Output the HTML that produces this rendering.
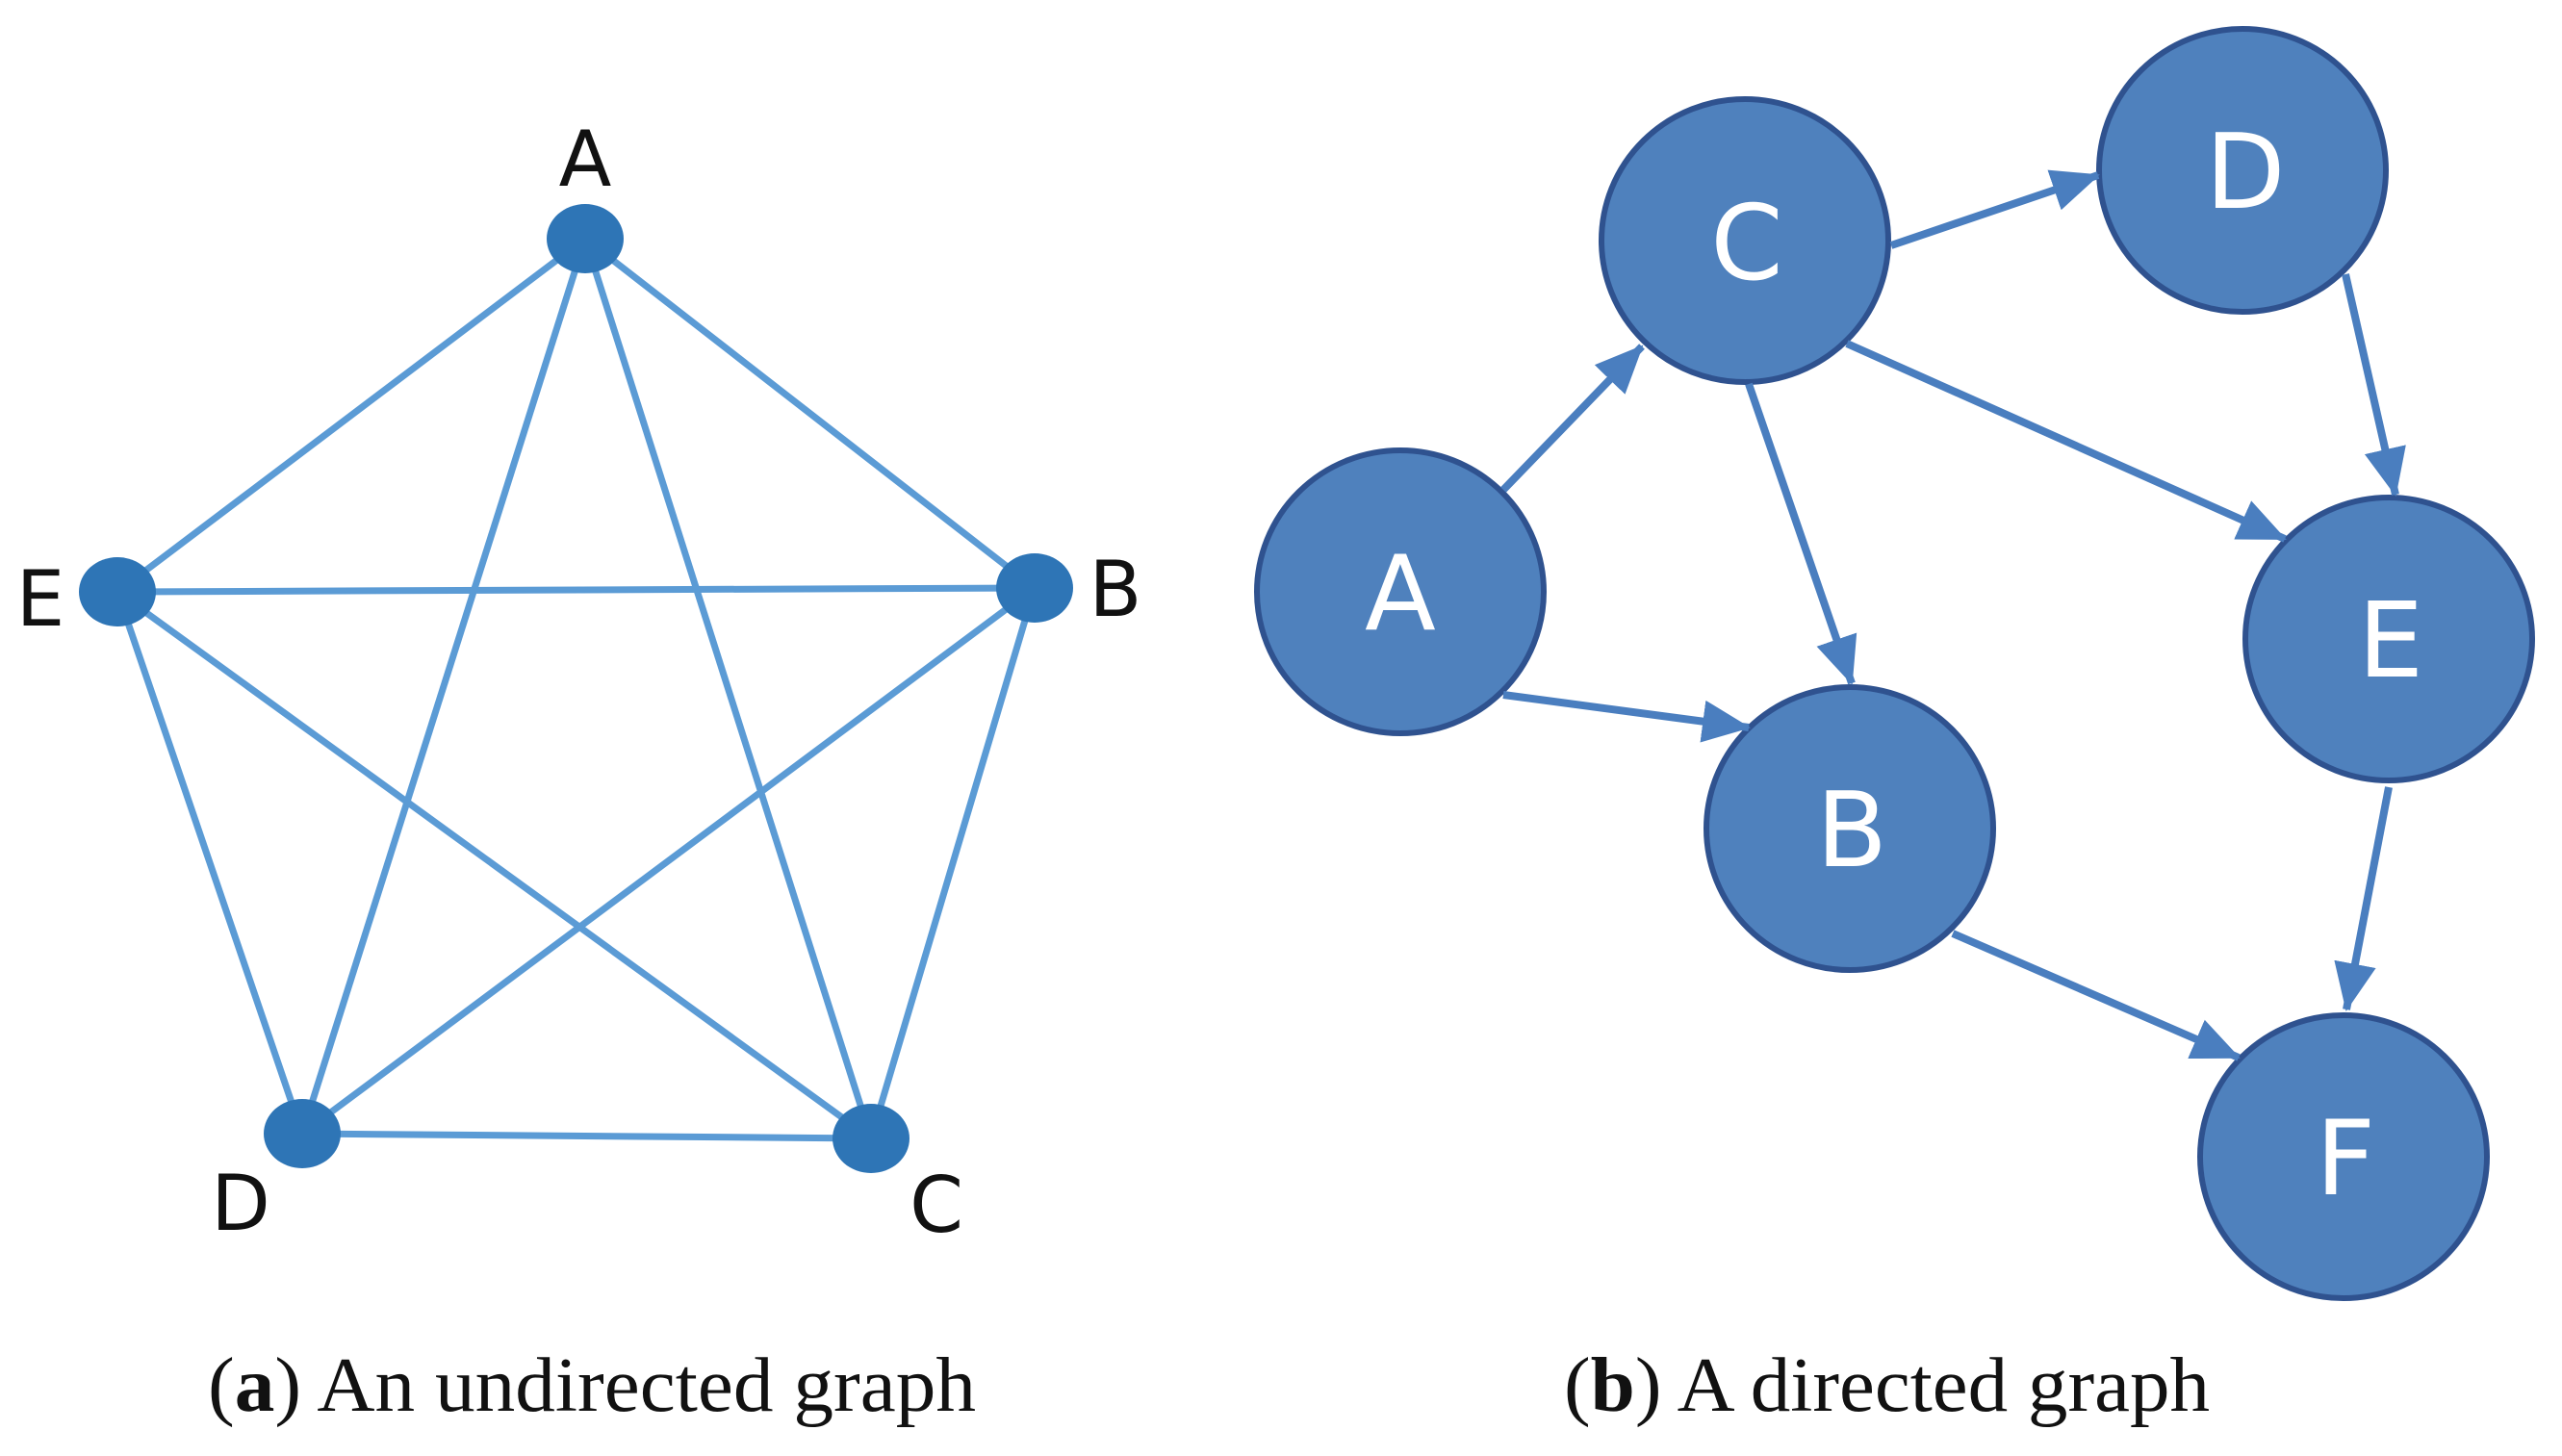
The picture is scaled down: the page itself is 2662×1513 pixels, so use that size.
<!DOCTYPE html>
<html><head><style>html,body{margin:0;padding:0;background:#fff;}svg{display:block;}</style></head>
<body>
<svg width="2662" height="1513" viewBox="0 0 2662 1513" xmlns="http://www.w3.org/2000/svg">
<defs>
<marker id="ah" markerWidth="50" markerHeight="44" refX="48" refY="22" orient="auto" markerUnits="userSpaceOnUse" viewBox="0 0 50 44">
<path d="M0,0 L50,22 L0,44 z" fill="#4a7ebf"/>
</marker>
</defs>
<g stroke="#5b9bd5" stroke-width="7" fill="none">
<line x1="608" y1="248" x2="122" y2="615"/>
<line x1="608" y1="248" x2="1075" y2="611"/>
<line x1="608" y1="248" x2="314" y2="1178"/>
<line x1="608" y1="248" x2="905" y2="1183"/>
<line x1="122" y1="615" x2="1075" y2="611"/>
<line x1="122" y1="615" x2="314" y2="1178"/>
<line x1="122" y1="615" x2="905" y2="1183"/>
<line x1="1075" y1="611" x2="314" y2="1178"/>
<line x1="1075" y1="611" x2="905" y2="1183"/>
<line x1="314" y1="1178" x2="905" y2="1183"/>
</g>
<g fill="#2e75b6">
<ellipse cx="608" cy="248" rx="40" ry="36"/>
<ellipse cx="122" cy="615" rx="40" ry="36"/>
<ellipse cx="1075" cy="611" rx="40" ry="36"/>
<ellipse cx="314" cy="1178" rx="40" ry="36"/>
<ellipse cx="905" cy="1183" rx="40" ry="36"/>
</g>
<g font-family="'DejaVu Sans','Liberation Sans',sans-serif" font-size="80" fill="#111" text-anchor="middle">
<text x="608" y="193">A</text>
<text x="42" y="650">E</text>
<text x="1159" y="640">B</text>
<text x="250" y="1278">D</text>
<text x="973" y="1280">C</text>
</g>
<g fill="#4f81bd" stroke="#2f528f" stroke-width="6">
<ellipse cx="1455" cy="615" rx="149" ry="147"/>
<ellipse cx="1813" cy="250" rx="149" ry="147"/>
<ellipse cx="2330" cy="177" rx="149" ry="147"/>
<ellipse cx="2482" cy="664" rx="149" ry="147"/>
<ellipse cx="1922" cy="861" rx="149" ry="147"/>
<ellipse cx="2435" cy="1202" rx="149" ry="147"/>
</g>
<g stroke="#4a7ebf" stroke-width="8" fill="none" marker-end="url(#ah)">
<line x1="1562" y1="509" x2="1706" y2="360"/>
<line x1="1562" y1="722" x2="1817" y2="756"/>
<line x1="1817" y1="399" x2="1924" y2="710"/>
<line x1="1965" y1="255" x2="2180" y2="182"/>
<line x1="1919" y1="357" x2="2374" y2="560"/>
<line x1="2437" y1="285" x2="2489" y2="514"/>
<line x1="2482" y1="818" x2="2438" y2="1049"/>
<line x1="2029" y1="970" x2="2326" y2="1099"/>
</g>
<g font-family="'DejaVu Sans','Liberation Sans',sans-serif" font-size="108" fill="#fff" text-anchor="middle">
<text x="1455" y="654">A</text>
<text x="1815" y="290">C</text>
<text x="2333" y="216">D</text>
<text x="2484" y="703">E</text>
<text x="1924" y="900">B</text>
<text x="2437" y="1241">F</text>
</g>
<g font-family="'Liberation Serif',serif" font-size="80" fill="#111">
<text x="216" y="1466" textLength="798" lengthAdjust="spacingAndGlyphs">(<tspan font-weight="bold">a</tspan>) An undirected graph</text>
<text x="1625" y="1466" textLength="671" lengthAdjust="spacingAndGlyphs">(<tspan font-weight="bold">b</tspan>) A directed graph</text>
</g>
</svg>
</body></html>
